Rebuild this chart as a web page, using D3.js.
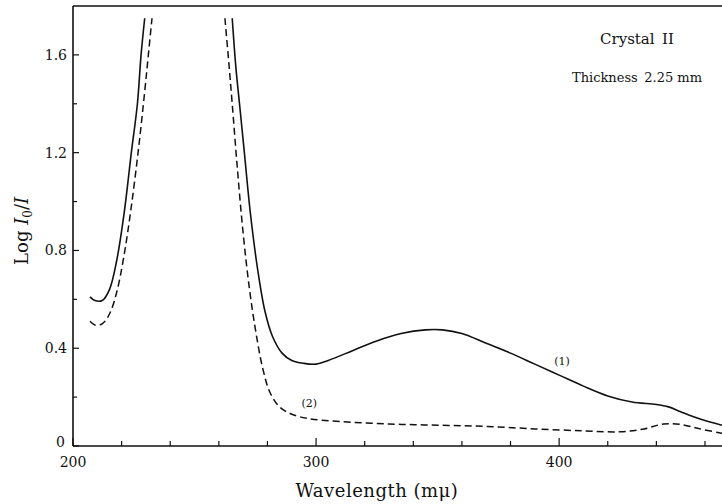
<!DOCTYPE html>
<html>
<head>
<meta charset="utf-8">
<script src="https://cdn.jsdelivr.net/npm/d3@7"></script>
<style>
	body { margin: 0; background: #fff; }
	svg { display: block; }
</style>
</head>
<body>
<div id="chart"></div>
<script>
// curve (1), solid; null = break where the curve runs off the top
const solidWl = [207, 209, 212, 215, 218, 221, 224, 226.5, 228, 229.5, null,
	265.5, 267, 268.5, 270.5, 273, 276, 279, 282, 286, 290, 295, 300, 305, 315, 325, 335, 345, 352,
	360, 370, 380, 390, 400, 410, 420, 430, 440, 445, 450, 458, 467]
const solidVal = [0.61, 0.595, 0.595, 0.64, 0.76, 0.95, 1.2, 1.4, 1.6, 1.75, null,
	1.75, 1.55, 1.4, 1.2, 0.95, 0.72, 0.55, 0.45, 0.38, 0.35, 0.338, 0.335, 0.35, 0.39, 0.43, 0.46, 0.475, 0.475,
	0.46, 0.42, 0.38, 0.335, 0.29, 0.245, 0.205, 0.18, 0.17, 0.16, 0.14, 0.11, 0.085]

// curve (2), dashed
const dashWl = [207, 209, 212, 215, 218, 221, 224, 227, 229.5, 231, 232.5, null,
	262.5, 264, 265.5, 267.5, 270, 272.5, 275, 278, 281, 285, 290, 297, 310, 330, 350, 370, 390, 410, 425,
	435, 443, 450, 458, 467]
const dashVal = [0.51, 0.495, 0.5, 0.54, 0.63, 0.78, 0.98, 1.22, 1.45, 1.6, 1.75, null,
	1.75, 1.58, 1.4, 1.15, 0.87, 0.65, 0.48, 0.32, 0.22, 0.16, 0.13, 0.112, 0.1, 0.09, 0.085, 0.08, 0.07, 0.062, 0.058,
	0.07, 0.09, 0.088, 0.07, 0.052]

const xTicks = [200, 220, 240, 260, 280, 300, 320, 340, 360, 380, 400, 420, 440, 460]
const xLabels = [200, 300, 400]
const yTicks = [0, 0.2, 0.4, 0.6, 0.8, 1.0, 1.2, 1.4, 1.6]
const yLabels = [0, 0.4, 0.8, 1.2, 1.6]

const width = 722, height = 504
const margin = { top: 6, right: 0, bottom: 58, left: 73 }
const serif = "'DejaVu Serif', 'Liberation Serif', 'Times New Roman', serif"

const svg = d3.select("#chart").append("svg")
	.attr("width", width)
	.attr("height", height)
	.style("font-family", serif)
	.attr("fill", "#111")

const x = d3.scaleLinear().domain([200, 467]).range([margin.left, width - margin.right])
const y = d3.scaleLinear().domain([0, 1.8]).range([height - margin.bottom, margin.top])

// frame: left, bottom, top
const g = svg.append("g").attr("stroke", "#111").attr("fill", "none")
g.append("line").attr("x1", x(200)).attr("x2", x(200)).attr("y1", y(1.8)).attr("y2", y(0)).attr("stroke-width", 1.6)
g.append("line").attr("x1", x(200)).attr("x2", width).attr("y1", y(0)).attr("y2", y(0)).attr("stroke-width", 1.4)
g.append("line").attr("x1", x(200)).attr("x2", width).attr("y1", y(1.8)).attr("y2", y(1.8)).attr("stroke-width", 1.6)

// ticks point inward
g.selectAll(".xt").data(xTicks).enter().append("line")
	.attr("x1", d => x(d)).attr("x2", d => x(d))
	.attr("y1", y(0)).attr("y2", d => y(0) - (d % 100 === 0 ? 8 : 5))
	.attr("stroke-width", 1.2)
g.selectAll(".yt").data(yTicks).enter().append("line")
	.attr("x1", x(200)).attr("x2", d => x(200) + (Math.round(d * 10) % 4 === 0 ? 6 : 4))
	.attr("y1", d => y(d)).attr("y2", d => y(d))
	.attr("stroke-width", 1.2)

svg.selectAll(".xl").data(xLabels).enter().append("text")
	.attr("x", d => x(d)).attr("y", y(0) + 21)
	.attr("text-anchor", "middle").attr("font-size", 14)
	.text(d => d)
svg.selectAll(".yl").data(yLabels).enter().append("text")
	.attr("x", d => x(200) - (d === 0 ? 8 : 6)).attr("y", d => y(d) + (d === 0 ? 1 : 5))
	.attr("text-anchor", "end").attr("font-size", 14)
	.text(d => d === 0 ? "0" : d.toFixed(1))

// curves
function pts(wl, val) { return wl.map((w, i) => [w, val[i]]) }
const line = d3.line()
	.defined(d => d[0] !== null)
	.x(d => x(d[0])).y(d => y(d[1]))
	.curve(d3.curveCatmullRom.alpha(0.5))

svg.append("path").datum(pts(solidWl, solidVal))
	.attr("d", line).attr("fill", "none").attr("stroke", "#111").attr("stroke-width", 1.6)
svg.append("path").datum(pts(dashWl, dashVal))
	.attr("d", line).attr("fill", "none").attr("stroke", "#111").attr("stroke-width", 1.5)
	.attr("stroke-dasharray", "7,4")

// curve labels
svg.append("text").attr("x", x(398)).attr("y", y(0.33)).attr("font-size", 11).text("(1)")
svg.append("text").attr("x", x(294)).attr("y", y(0.16)).attr("font-size", 11).text("(2)")

// notes
svg.append("text").attr("x", 637).attr("y", 44).attr("text-anchor", "middle").attr("font-size", 15)
	.text("Crystal\u2002II")
svg.append("text").attr("x", 637).attr("y", 82).attr("text-anchor", "middle").attr("font-size", 13)
	.text("Thickness\u20022.25 mm")

// axis titles
svg.append("text").attr("x", x(325)).attr("y", 497).attr("text-anchor", "middle").attr("font-size", 18)
	.attr("letter-spacing", 0.5)
	.text("Wavelength (m\u03bc)")

const yt = svg.append("text")
	.attr("transform", `translate(28,${y(0.88)}) rotate(-90)`)
	.attr("text-anchor", "middle").attr("font-size", 18)
yt.append("tspan").text("Log ")
yt.append("tspan").attr("font-style", "italic").text("I")
yt.append("tspan").attr("font-size", 12).attr("dy", 4).text("0")
yt.append("tspan").attr("dy", -4).text("/")
yt.append("tspan").attr("font-style", "italic").text("I")
</script>
</body>
</html>
